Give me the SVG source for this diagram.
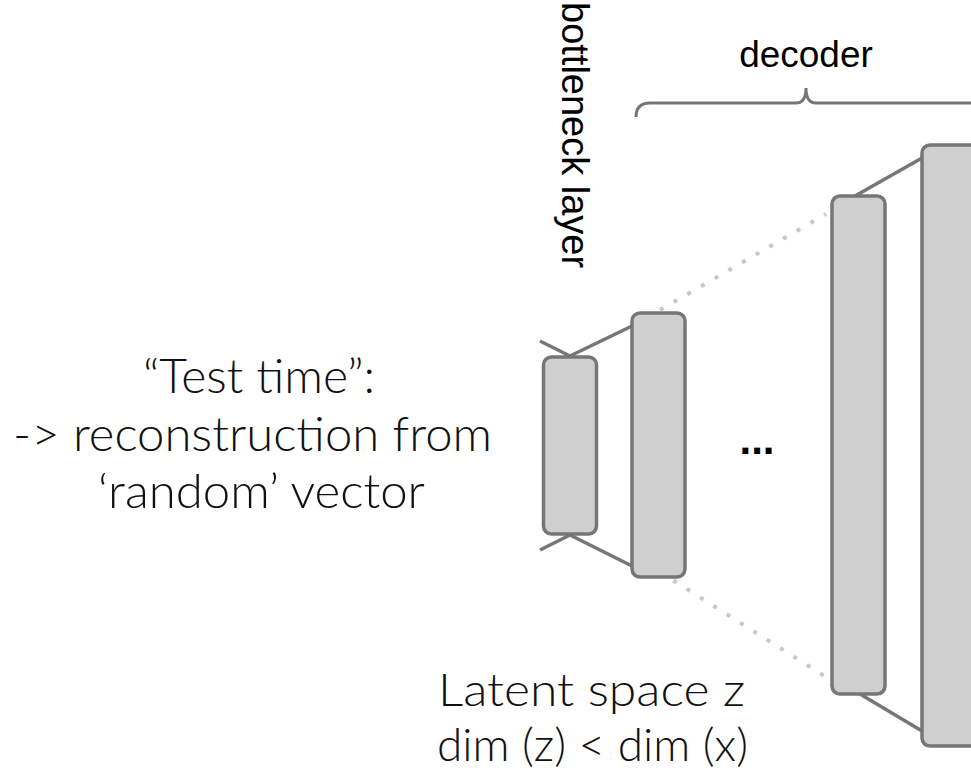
<svg xmlns="http://www.w3.org/2000/svg" width="971" height="771" viewBox="0 0 971 771">
  <style>
    .layer { fill: #cfcfcf; stroke: #767676; stroke-width: 3.5; }
    .conn { stroke: #767676; stroke-width: 3.5; fill: none; }
    .dots { stroke: #c8c8c8; stroke-width: 4; stroke-dasharray: 4 11.8; fill: none; }
    .brace { stroke: #767676; stroke-width: 3; fill: none; }
    .label { font-family: "Liberation Sans", Arial, sans-serif; fill: #000; }
    .light { font-family: Lato, "Open Sans", "Liberation Sans", sans-serif; font-weight: 300; fill: #111111; }
  </style>
  <rect width="971" height="771" fill="#ffffff"/>

  <g id="connectors">
    <line class="dots" x1="660" y1="310" x2="826" y2="214"/>
    <line class="dots" x1="660" y1="572" x2="826" y2="677"/>
    <line class="conn" x1="540" y1="341" x2="570" y2="356"/>
    <line class="conn" x1="570" y1="356" x2="632" y2="326"/>
    <line class="conn" x1="540" y1="550" x2="570" y2="535"/>
    <line class="conn" x1="570" y1="535" x2="632" y2="566"/>
    <line class="conn" x1="855" y1="196" x2="922" y2="158"/>
    <line class="conn" x1="860" y1="694" x2="922" y2="731"/>
  </g>

  <g id="bottleneck">
    <rect class="layer" x="543.5" y="357" width="53" height="177" rx="8"/>
  </g>
  <g id="decoder-layer-1">
    <rect class="layer" x="632" y="313" width="53" height="264" rx="8"/>
  </g>
  <g id="decoder-layer-2">
    <rect class="layer" x="832" y="196" width="53" height="498" rx="8"/>
  </g>
  <g id="decoder-layer-3">
    <rect class="layer" x="922" y="145" width="60" height="601" rx="8"/>
  </g>

  <g id="ellipsis">
    <text class="label" x="757" y="454" font-size="42" font-weight="bold" text-anchor="middle">...</text>
  </g>

  <g id="decoder-brace">
    <path class="brace" d="M636,117 Q636,103 650,103 L796,103 Q806,103 806,88 Q806,103 816,103 L975,103"/>
    <text class="label" x="806" y="67" font-size="37" text-anchor="middle">decoder</text>
  </g>

  <g id="bottleneck-label">
    <text class="label" font-size="38" transform="translate(562,2) rotate(90)">bottleneck layer</text>
  </g>

  <g id="test-time-text">
    <text class="light" font-size="47" x="143" y="393" textLength="232" lengthAdjust="spacingAndGlyphs">“Test time”:</text>
    <text class="light" font-size="47" x="13" y="451" textLength="479" lengthAdjust="spacingAndGlyphs">-&gt; reconstruction from</text>
    <text class="light" font-size="47" x="98" y="508" textLength="327" lengthAdjust="spacingAndGlyphs">‘random’ vector</text>
  </g>

  <g id="latent-text">
    <text class="light" font-size="46" x="438" y="706" textLength="307" lengthAdjust="spacingAndGlyphs">Latent space z</text>
    <text class="light" font-size="46" x="437" y="761" textLength="311" lengthAdjust="spacingAndGlyphs">dim (z) &lt; dim (x)</text>
  </g>
</svg>
